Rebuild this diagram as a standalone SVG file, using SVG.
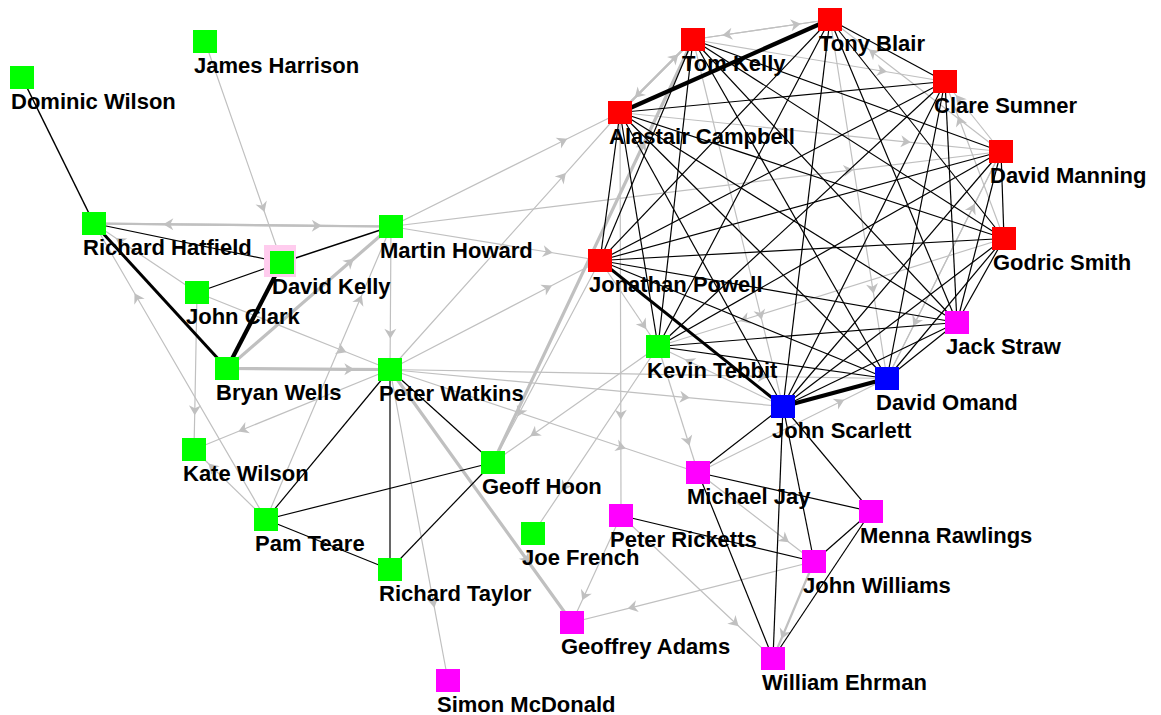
<svg xmlns="http://www.w3.org/2000/svg" width="1161" height="715" viewBox="0 0 1161 715">
<style>
.b{stroke:#000;stroke-width:1.2;fill:none}
.b3{stroke:#000;stroke-width:3;fill:none}
.b4{stroke:#000;stroke-width:4.2;fill:none}
.g{stroke:#c0c0c0;stroke-width:1.2;fill:none;marker-mid:url(#ar)}
.g2{stroke:#c0c0c0;stroke-width:2.2;fill:none;marker-mid:url(#ar)}
.g3{stroke:#c0c0c0;stroke-width:3.2;fill:none;marker-mid:url(#ar)}
.gr{fill:#00ff00}.rd{fill:#ff0000}.bl{fill:#0000ff}.mg{fill:#ff00ff}
text{font-family:"Liberation Sans",Arial,sans-serif;font-weight:bold;font-size:22px;fill:#000}
</style>
<defs>
<marker id="ar" viewBox="-8 -8 16 16" markerWidth="16" markerHeight="16" refX="0" refY="0" orient="auto" markerUnits="userSpaceOnUse">
<path d="M5,0 L-5,-6 L-2,0 L-5,6 Z" fill="#c0c0c0"/>
</marker>
</defs>
<rect width="1161" height="715" fill="#fff"/>
<g id="edges">
<path class="g" d="M205,41.5 L262.8,207.3 L282,262.5"/>
<path class="g2" d="M391,226.5 L168.3,224.3 L94,223.5"/>
<path class="g2" d="M94,223.5 L316.8,225.8 L391,226.5"/>
<path class="g" d="M197,292.5 L119.8,240.8 L94,223.5"/>
<path class="g" d="M266,519.5 L137,297.5 L94,223.5"/>
<path class="g3" d="M227,368.5 L350,262 L391,226.5"/>
<path class="g3" d="M227,368.5 L349.3,369.3 L390,369.5"/>
<path class="g" d="M391,226.5 L390.3,333.8 L390,369.5"/>
<path class="g" d="M197,292.5 L341.8,350.3 L390,369.5"/>
<path class="g" d="M266,519.5 L359.8,299.8 L391,226.5"/>
<path class="g" d="M390,369.5 L243,429.5 L194,449.5"/>
<path class="g" d="M197,292.5 L194.8,410.3 L194,449.5"/>
<path class="g" d="M266,519.5 L212,467 L194,449.5"/>
<path class="g" d="M390,369.5 L433.5,602.8 L448,680.5"/>
<path class="g3" d="M390,369.5 L526.5,559.3 L572,622.5"/>
<path class="g" d="M621,515.5 L584.3,595.8 L572,622.5"/>
<path class="g" d="M814,561.5 L632.5,607.3 L572,622.5"/>
<path class="g" d="M621,515.5 L735,622.8 L773,658.5"/>
<path class="g" d="M698,472.5 L785,539.3 L814,561.5"/>
<path class="g2" d="M814,561.5 L783.3,634.3 L773,658.5"/>
<path class="g" d="M658,346.5 L688,441 L698,472.5"/>
<path class="g" d="M698,472.5 L839.8,402 L887,378.5"/>
<path class="g" d="M390,369.5 L684.8,397.3 L783,406.5"/>
<path class="g" d="M390,369.5 L762.8,376.3 L887,378.5"/>
<path class="g" d="M390,369.5 L547.5,287.8 L600,260.5"/>
<path class="g" d="M390,369.5 L562.5,176.8 L620,112.5"/>
<path class="g" d="M390,369.5 L621,446.8 L698,472.5"/>
<path class="g" d="M391,226.5 L562.8,141 L620,112.5"/>
<path class="g" d="M391,226.5 L547.8,252 L600,260.5"/>
<path class="g" d="M391,226.5 L848.5,170.3 L1001,151.5"/>
<path class="g" d="M658,346.5 L534.3,433.5 L493,462.5"/>
<path class="g" d="M600,260.5 L519.8,412 L493,462.5"/>
<path class="g" d="M658,346.5 L564.3,486.8 L533,533.5"/>
<path class="g" d="M620,112.5 L620.8,414.8 L621,515.5"/>
<path class="g3" d="M493,462.5 L643,145.3 L693,39.5"/>
<path class="g" d="M1004,238.5 L959.8,120.8 L945,81.5"/>
<path class="g" d="M1001,151.5 L959,99 L945,81.5"/>
<path class="g" d="M693,39.5 L882,71 L945,81.5"/>
<path class="g" d="M1001,151.5 L872.8,52.5 L830,19.5"/>
<path class="g" d="M693,39.5 L795.8,24.5 L830,19.5"/>
<path class="g" d="M830,19.5 L727.3,34.5 L693,39.5"/>
<path class="g2" d="M620,112.5 L674.8,57.8 L693,39.5"/>
<path class="g2" d="M693,39.5 L638.3,94.3 L620,112.5"/>
<path class="g" d="M620,112.5 L905.8,141.8 L1001,151.5"/>
<path class="g" d="M887,378.5 L972.5,208.3 L1001,151.5"/>
<path class="g" d="M1001,151.5 L915.5,321.8 L887,378.5"/>
<path class="g" d="M830,19.5 L872.8,288.8 L887,378.5"/>
<path class="g" d="M1004,238.5 L744.5,319.5 L658,346.5"/>
<path class="g" d="M693,39.5 L760.5,314.8 L783,406.5"/>
<path class="g" d="M600,260.5 L643.5,325 L658,346.5"/>
<path class="g" d="M783,406.5 L689.3,361.5 L658,346.5"/>

<path class="b" style="stroke-width:1.5" d="M22,77.5 L94,223.5"/>
<path class="b" d="M94,223.5 L282,262.5"/>
<path class="b3" d="M94,223.5 L227,368.5"/>
<path class="b" d="M197,292.5 L282,262.5"/>
<path class="b4" d="M282,262.5 L227,368.5"/>
<path class="b" style="stroke-width:1.5" d="M282,262.5 L391,226.5"/>
<path class="b" d="M390,369.5 L266,519.5"/>
<path class="b" d="M390,369.5 L390,569.5"/>
<path class="b" d="M390,369.5 L493,462.5"/>
<path class="b" d="M266,519.5 L493,462.5"/>
<path class="b" d="M266,519.5 L390,569.5"/>
<path class="b" d="M390,569.5 L493,462.5"/>

<path class="b" d="M783,406.5 L698,472.5"/>
<path class="b" d="M783,406.5 L871,511.5"/>
<path class="b" d="M783,406.5 L814,561.5"/>
<path class="b" d="M783,406.5 L773,658.5"/>
<path class="b" d="M698,472.5 L871,511.5"/>
<path class="b" d="M698,472.5 L773,658.5"/>
<path class="b" d="M814,561.5 L871,511.5"/>
<path class="b" d="M773,658.5 L871,511.5"/>
<path class="b" d="M621,515.5 L814,561.5"/>

<path class="b4" d="M620,112.5 L830,19.5"/>
<path class="b4" d="M783,406.5 L887,378.5"/>
<path class="b3" d="M600,260.5 L783,406.5"/>

<path class="b" d="M620,112.5 L945,81.5"/>
<path class="b" d="M620,112.5 L1004,238.5"/>
<path class="b" d="M620,112.5 L957,322.5"/>
<path class="b" d="M620,112.5 L887,378.5"/>
<path class="b" d="M620,112.5 L783,406.5"/>
<path class="b" d="M620,112.5 L658,346.5"/>
<path class="b" d="M620,112.5 L600,260.5"/>
<path class="b" d="M693,39.5 L1001,151.5"/>
<path class="b" d="M693,39.5 L1004,238.5"/>
<path class="b" d="M693,39.5 L957,322.5"/>
<path class="b" d="M693,39.5 L887,378.5"/>
<path class="b" d="M693,39.5 L658,346.5"/>
<path class="b" d="M693,39.5 L600,260.5"/>
<path class="b" d="M830,19.5 L945,81.5"/>
<path class="b" d="M830,19.5 L1004,238.5"/>
<path class="b" d="M830,19.5 L957,322.5"/>
<path class="b" d="M830,19.5 L783,406.5"/>
<path class="b" d="M830,19.5 L658,346.5"/>
<path class="b" d="M830,19.5 L600,260.5"/>
<path class="b" d="M945,81.5 L957,322.5"/>
<path class="b" d="M945,81.5 L887,378.5"/>
<path class="b" d="M945,81.5 L783,406.5"/>
<path class="b" d="M945,81.5 L658,346.5"/>
<path class="b" d="M945,81.5 L600,260.5"/>
<path class="b" d="M1001,151.5 L1004,238.5"/>
<path class="b" d="M1001,151.5 L957,322.5"/>
<path class="b" d="M1001,151.5 L783,406.5"/>
<path class="b" d="M1001,151.5 L658,346.5"/>
<path class="b" d="M1001,151.5 L600,260.5"/>
<path class="b" d="M1004,238.5 L957,322.5"/>
<path class="b" d="M1004,238.5 L887,378.5"/>
<path class="b" d="M1004,238.5 L783,406.5"/>
<path class="b" d="M1004,238.5 L600,260.5"/>
<path class="b" d="M957,322.5 L887,378.5"/>
<path class="b" d="M957,322.5 L783,406.5"/>
<path class="b" d="M957,322.5 L658,346.5"/>
<path class="b" d="M957,322.5 L600,260.5"/>
<path class="b" d="M887,378.5 L658,346.5"/>
<path class="b" d="M887,378.5 L600,260.5"/>
</g>
<g id="n-dominic-wilson"><rect class="gr" x="10" y="66" width="24" height="23"/><text x="11" y="109">Dominic Wilson</text></g>
<g id="n-james-harrison"><rect class="gr" x="193" y="30" width="24" height="23"/><text x="194" y="73">James Harrison</text></g>
<g id="n-richard-hatfield"><rect class="gr" x="82" y="212" width="24" height="23"/><text x="83" y="255">Richard Hatfield</text></g>
<g id="n-martin-howard"><rect class="gr" x="379" y="215" width="24" height="23"/><text x="380" y="258">Martin Howard</text></g>
<g id="n-david-kelly"><rect x="264" y="245" width="32" height="32" fill="#ffccee"/><rect class="gr" x="270" y="251" width="24" height="23"/><text x="272" y="294">David Kelly</text></g>
<g id="n-john-clark"><rect class="gr" x="185" y="281" width="24" height="23"/><text x="186" y="324">John Clark</text></g>
<g id="n-bryan-wells"><rect class="gr" x="215" y="357" width="24" height="23"/><text x="216" y="400">Bryan Wells</text></g>
<g id="n-peter-watkins"><rect class="gr" x="378" y="358" width="24" height="23"/><text x="379" y="401">Peter Watkins</text></g>
<g id="n-kate-wilson"><rect class="gr" x="182" y="438" width="24" height="23"/><text x="183" y="481">Kate Wilson</text></g>
<g id="n-pam-teare"><rect class="gr" x="254" y="508" width="24" height="23"/><text x="255" y="551">Pam Teare</text></g>
<g id="n-geoff-hoon"><rect class="gr" x="481" y="451" width="24" height="23"/><text x="482" y="494">Geoff Hoon</text></g>
<g id="n-richard-taylor"><rect class="gr" x="378" y="558" width="24" height="23"/><text x="379" y="601">Richard Taylor</text></g>
<g id="n-joe-french"><rect class="gr" x="521" y="522" width="24" height="23"/><text x="522" y="565">Joe French</text></g>
<g id="n-simon-mcdonald"><rect class="mg" x="436" y="669" width="24" height="23"/><text x="437" y="712">Simon McDonald</text></g>
<g id="n-geoffrey-adams"><rect class="mg" x="560" y="611" width="24" height="23"/><text x="561" y="654">Geoffrey Adams</text></g>
<g id="n-peter-ricketts"><rect class="mg" x="609" y="504" width="24" height="23"/><text x="610" y="547">Peter Ricketts</text></g>
<g id="n-michael-jay"><rect class="mg" x="686" y="461" width="24" height="23"/><text x="687" y="504">Michael Jay</text></g>
<g id="n-john-williams"><rect class="mg" x="802" y="550" width="24" height="23"/><text x="803" y="593">John Williams</text></g>
<g id="n-william-ehrman"><rect class="mg" x="761" y="647" width="24" height="23"/><text x="762" y="690">William Ehrman</text></g>
<g id="n-menna-rawlings"><rect class="mg" x="859" y="500" width="24" height="23"/><text x="860" y="543">Menna Rawlings</text></g>
<g id="n-john-scarlett"><rect class="bl" x="771" y="395" width="24" height="23"/><text x="772" y="438">John Scarlett</text></g>
<g id="n-david-omand"><rect class="bl" x="875" y="367" width="24" height="23"/><text x="876" y="410">David Omand</text></g>
<g id="n-jack-straw"><rect class="mg" x="945" y="311" width="24" height="23"/><text x="946" y="354">Jack Straw</text></g>
<g id="n-godric-smith"><rect class="rd" x="992" y="227" width="24" height="23"/><text x="993" y="270">Godric Smith</text></g>
<g id="n-david-manning"><rect class="rd" x="989" y="140" width="24" height="23"/><text x="990" y="183">David Manning</text></g>
<g id="n-clare-sumner"><rect class="rd" x="933" y="70" width="24" height="23"/><text x="934" y="113">Clare Sumner</text></g>
<g id="n-tony-blair"><rect class="rd" x="818" y="8" width="24" height="23"/><text x="819" y="51">Tony Blair</text></g>
<g id="n-tom-kelly"><rect class="rd" x="681" y="28" width="24" height="23"/><text x="682" y="71">Tom Kelly</text></g>
<g id="n-alastair-campbell"><rect class="rd" x="608" y="101" width="24" height="23"/><text x="609" y="144">Alastair Campbell</text></g>
<g id="n-jonathan-powell"><rect class="rd" x="588" y="249" width="24" height="23"/><text x="589" y="292">Jonathan Powell</text></g>
<g id="n-kevin-tebbit"><rect class="gr" x="646" y="335" width="24" height="23"/><text x="647" y="378">Kevin Tebbit</text></g>
</svg>
